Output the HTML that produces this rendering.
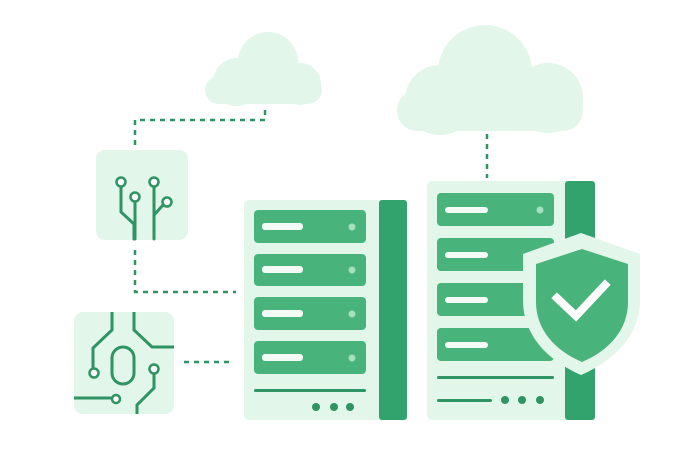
<!DOCTYPE html>
<html><head><style>html,body{margin:0;padding:0;background:#fff;width:700px;height:466px;overflow:hidden}</style></head>
<body>
<svg width="700" height="466" viewBox="0 0 700 466" xmlns="http://www.w3.org/2000/svg">
<!-- clouds -->
<g fill="#e2f6ea">
<circle cx="237" cy="82" r="24"/><circle cx="268" cy="62" r="30"/><circle cx="300" cy="84" r="21"/>
<rect x="205" y="76" width="117" height="28" rx="14"/>
<circle cx="440" cy="100" r="35"/><circle cx="485" cy="72" r="47"/><circle cx="548" cy="98" r="35"/>
<rect x="397" y="90" width="186" height="41" rx="20"/>
</g>
<!-- dashed connectors -->
<g stroke="#2f9463" stroke-width="2.5" stroke-dasharray="5 5" fill="none">
<path d="M265 110 V120 H135 V148"/>
<path d="M135 250 V292 H236"/>
<path d="M184 362 H232"/>
<path d="M487 134 V178"/>
</g>
<!-- chip boxes -->
<rect x="96" y="150" width="92" height="90" rx="9" fill="#e2f6ea"/>
<g stroke="#2f9463" stroke-width="3" fill="none" stroke-linecap="round">
<path d="M121 186 V212 L134 224 V239"/><path d="M135 202 V239"/><path d="M154 186 V239"/><path d="M154 215 L163 205"/>
</g>
<g stroke="#2f9463" stroke-width="2.5" fill="#fff">
<circle cx="121" cy="182" r="4.5"/><circle cx="135" cy="197" r="4.5"/><circle cx="154" cy="182" r="4.5"/><circle cx="167" cy="202" r="4.5"/>
</g>
<rect x="74" y="312" width="100" height="102" rx="9" fill="#e2f6ea"/>
<g stroke="#2f9463" stroke-width="3" fill="none">
<path d="M112 312 V330 L93 348 V368"/><path d="M134 312 V330 L152 347 H174"/>
<rect x="112" y="347" width="22" height="37" rx="11"/>
<path d="M74 398 H112"/><path d="M154 373 V388 L137 405 V414"/>
</g>
<g stroke="#2f9463" stroke-width="2.5" fill="#fff">
<circle cx="94" cy="373" r="4.5"/><circle cx="116" cy="399" r="4"/><circle cx="154" cy="369" r="4.5"/>
</g>
<!-- server 1 -->
<rect x="244" y="200" width="163" height="220" rx="5" fill="#e2f6ea"/>
<rect x="379" y="200" width="28" height="220" rx="3" fill="#33a36e"/>
<g fill="#48b47b">
<rect x="254" y="210" width="112" height="33" rx="4"/><rect x="254" y="254" width="112" height="32" rx="4"/>
<rect x="254" y="297" width="112" height="33" rx="4"/><rect x="254" y="341" width="112" height="33" rx="4"/>
</g>
<g fill="#f4fbf6"><rect x="262" y="223" width="41" height="7" rx="3"/><rect x="262" y="266" width="41" height="7" rx="3"/><rect x="262" y="310" width="41" height="7" rx="3"/><rect x="262" y="354" width="41" height="7" rx="3"/></g>
<g fill="#a8e0bf"><circle cx="352" cy="227" r="3.5"/><circle cx="352" cy="270" r="3.5"/><circle cx="352" cy="314" r="3.5"/><circle cx="352" cy="358" r="3.5"/></g>
<rect x="254" y="389" width="112" height="3" rx="1.5" fill="#2f9463"/>
<g fill="#2f9463"><circle cx="316" cy="407" r="4"/><circle cx="334" cy="407" r="4"/><circle cx="350" cy="407" r="4"/></g>
<!-- server 2 -->
<rect x="427" y="181" width="168" height="239" rx="5" fill="#e2f6ea"/>
<rect x="565" y="181" width="30" height="239" rx="3" fill="#33a36e"/>
<g fill="#48b47b">
<rect x="437" y="193" width="117" height="33" rx="4"/><rect x="437" y="238" width="117" height="33" rx="4"/>
<rect x="437" y="283" width="117" height="33" rx="4"/><rect x="437" y="328" width="117" height="33" rx="4"/>
</g>
<g fill="#f4fbf6"><rect x="445" y="207" width="43" height="6" rx="3"/><rect x="445" y="252" width="43" height="6" rx="3"/><rect x="445" y="297" width="43" height="6" rx="3"/><rect x="445" y="342" width="43" height="6" rx="3"/></g>
<circle cx="540" cy="210" r="3.5" fill="#a8e0bf"/>
<rect x="437" y="376" width="117" height="3" rx="1.5" fill="#2f9463"/>
<rect x="437" y="399" width="55" height="3" rx="1.5" fill="#2f9463"/>
<g fill="#2f9463"><circle cx="505" cy="400" r="4"/><circle cx="522" cy="400" r="4"/><circle cx="540" cy="400" r="4"/></g>
<!-- shield -->
<path d="M581 233 L640 254 V300 C640 335 615 360 581 375 C547 360 523 335 523 300 V254 Z" fill="#e2f6ea"/>
<path d="M582 249 L628 264 V302 C628 329 610 350 582 362 C554 350 536 329 536 302 V264 Z" fill="#48b47b"/>
<path d="M557 298 L576 316 L605 285" stroke="#fff" stroke-width="8" fill="none" stroke-linecap="square"/>
</svg>
</body></html>
